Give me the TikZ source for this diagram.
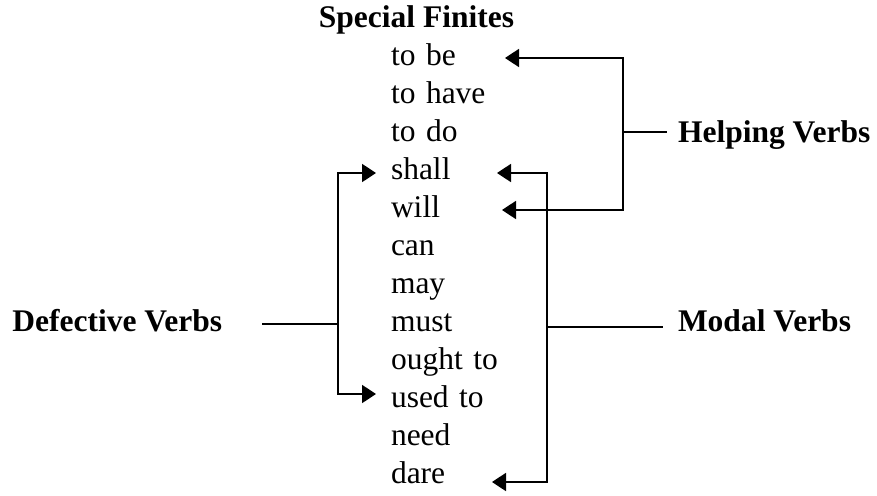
\documentclass[tikz,border=0pt]{standalone}
\usepackage{fontspec}
\setmainfont{Liberation Serif}
\usetikzlibrary{arrows.meta}
\begin{document}
\begin{tikzpicture}[x=1pt,y=-1pt,
  item/.style={anchor=base west,inner xsep=0pt,inner ysep=0pt,outer sep=0pt,
    text height=14pt,text depth=0pt,text width=108pt,align=left,
    font=\fontsize{31.5}{36}\selectfont},
  lab/.style={inner ysep=0pt,outer sep=0pt,text height=14pt,text depth=0pt,
    font=\fontsize{31.5}{36}\selectfont\bfseries},
  conn/.style={line width=1.8pt},
  arr/.style={conn,-{Triangle[length=14pt,width=18pt]}}]
\useasboundingbox (0,0) rectangle (877,495);
\node[lab,anchor=base] (title) at (416.5,28) {Special Finites};
\node[item] (tobe)   at (391,65)  {to be};
\node[item] (tohave) at (391,103) {to have};
\node[item] (todo)   at (391,141) {to do};
\node[item] (shall)  at (391,179) {shall};
\node[item] (will)   at (391,217) {will};
\node[item] (can)    at (391,255) {can};
\node[item] (may)    at (391,293) {may};
\node[item] (must)   at (391,331) {must};
\node[item] (ought)  at (391,369) {ought to};
\node[item] (usedto) at (391,407) {used to};
\node[item] (need)   at (391,445) {need};
\node[item] (dare)   at (391,483) {dare};
\node[lab,anchor=base west,inner xsep=11pt] (helping) at (667,142) {Helping Verbs};
\node[lab,anchor=base west,inner xsep=15pt] (modal) at (663,331) {Modal Verbs};
\node[lab,anchor=base east,inner xsep=40pt] (defective) at (262,331) {Defective Verbs};
\coordinate (hj) at (623,132);
\coordinate (mj) at (547,327);
\coordinate (dj) at (338,324);
% Helping verbs
\draw[conn] (hj) -- (hj -| helping.west);
\draw[arr] (hj) |- ([xshift=6pt]tobe.east);
\draw[arr] (hj) |- ([xshift=3pt]will.east);
% Modal verbs
\draw[conn] (mj) -- (mj -| modal.west);
\draw[arr] (mj) |- ([shift={(-2pt,-1pt)}]shall.east);
\draw[arr] (mj) |- ([shift={(-7pt,-6pt)}]dare.east);
% Defective verbs
\draw[conn] (dj) -- (dj -| defective.east);
\draw[arr] (dj) |- ([shift={(-15pt,-1pt)}]shall.west);
\draw[arr] (dj) |- ([shift={(-15pt,6pt)}]usedto.west);
\end{tikzpicture}
\end{document}
